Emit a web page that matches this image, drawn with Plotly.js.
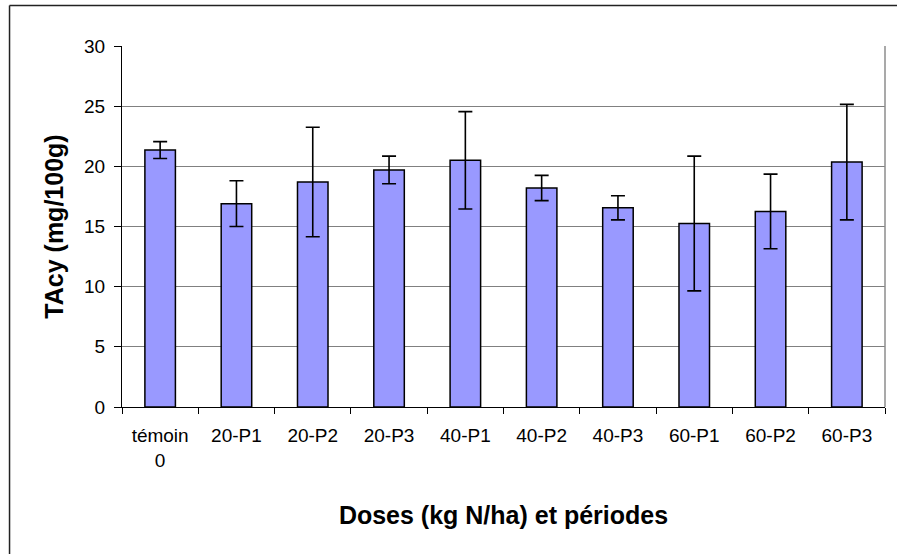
<!DOCTYPE html>
<html>
<head>
<meta charset="utf-8">
<script src="https://cdn.plot.ly/plotly-3.0.1.min.js"></script>
<style>html,body{margin:0;padding:0;background:#fff;}</style>
</head>
<body>
<div id="chart" style="width:897px;height:554px;"></div>
<script>
const categories = ["témoin<br>0", "20-P1", "20-P2", "20-P3", "40-P1", "40-P2", "40-P3", "60-P1", "60-P2", "60-P3"];
const tacyMeans = [21.35, 16.9, 18.7, 19.7, 20.5, 18.2, 16.55, 15.25, 16.25, 20.35];
const tacyErrors = [0.7, 1.9, 4.55, 1.15, 4.05, 1.05, 1.0, 5.6, 3.1, 4.8];

const trace = {
  type: "bar",
  x: categories,
  y: tacyMeans,
  marker: {color: "#9999FF", line: {color: "#000000", width: 1.5}},
  error_y: {type: "data", array: tacyErrors, visible: true, color: "#000000", thickness: 1.6, width: 7},
  hoverinfo: "x+y"
};

const layout = {
  width: 897, height: 554,
  margin: {l: 122, r: 12, t: 46, b: 147},
  paper_bgcolor: "#ffffff", plot_bgcolor: "#ffffff",
  bargap: 0.6,
  showlegend: false,
  font: {family: "Arial, 'Liberation Sans', sans-serif", color: "#000000", size: 19},
  xaxis: {
    type: "category",
    showline: true, linecolor: "#000000", linewidth: 1,
    ticks: "outside", tickson: "boundaries", ticklen: 6, tickcolor: "#000000", tickwidth: 1,
    ticklabelstandoff: 11,
    tickfont: {size: 19, family: "Arial, 'Liberation Sans', sans-serif"},
    showgrid: false, zeroline: false,
    title: {text: "Doses (kg N/ha) et périodes", font: {size: 25, family: "Arial, 'Liberation Sans', sans-serif", weight: "bold"}, standoff: 36},
    automargin: false
  },
  yaxis: {
    range: [0, 30], dtick: 5, tick0: 0,
    showline: true, linecolor: "#000000", linewidth: 1,
    ticks: "outside", ticklen: 7, tickcolor: "#000000", tickwidth: 1,
    ticklabelstandoff: 5,
    tickfont: {size: 19, family: "Arial, 'Liberation Sans', sans-serif"},
    showgrid: true, gridcolor: "#808080", gridwidth: 1,
    zeroline: false,
    title: {text: "TAcy (mg/100g)", font: {size: 25, family: "Arial, 'Liberation Sans', sans-serif", weight: "bold"}, standoff: 13},
    automargin: false
  },
  shapes: [
    {type: "line", xref: "paper", yref: "paper", x0: 1, x1: 1, y0: 0, y1: 1, line: {color: "#8c8c8c", width: 1.5}},
    {type: "line", xref: "paper", yref: "paper", x0: -0.1474, x1: -0.1474, y0: -0.6, y1: 1.112, line: {color: "#222222", width: 1.5}},
    {type: "line", xref: "paper", yref: "paper", x0: -0.1474, x1: 1.2, y0: 1.112, y1: 1.112, line: {color: "#222222", width: 1.5}}
  ]
};

Plotly.newPlot("chart", [trace], layout, {displayModeBar: false, staticPlot: true});
</script>
</body>
</html>
